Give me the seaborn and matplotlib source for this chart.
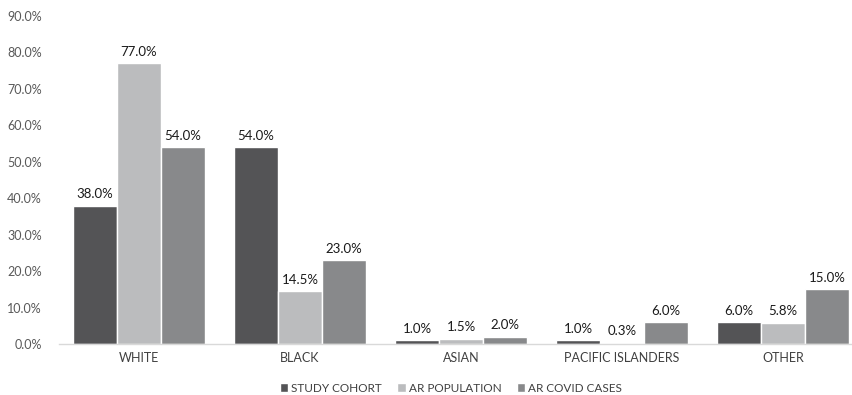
import matplotlib
matplotlib.use("Agg")
import matplotlib.pyplot as plt
import seaborn as sns
import pandas as pd
from matplotlib.ticker import FuncFormatter

categories = ["WHITE", "BLACK", "ASIAN", "PACIFIC ISLANDERS", "OTHER"]
series = ["STUDY COHORT", "AR POPULATION", "AR COVID CASES"]
study_cohort = [38.0, 54.0, 1.0, 1.0, 6.0]
ar_population = [77.0, 14.5, 1.5, 0.3, 5.8]
ar_covid_cases = [54.0, 23.0, 2.0, 6.0, 15.0]
yticks = [0, 10, 20, 30, 40, 50, 60, 70, 80, 90]

rows = []
for name, vals in zip(series, [study_cohort, ar_population, ar_covid_cases]):
    for c, v in zip(categories, vals):
        rows.append({"cat": c, "series": name, "val": v})
df = pd.DataFrame(rows)

sns.set_theme(style="white")
plt.rcParams["font.family"] = ["Lato", "DejaVu Sans"]

fig = plt.figure(figsize=(8.52, 3.95), dpi=100)
ax = fig.add_axes([58.5 / 852, 51 / 395, 805 / 852, 328 / 395])

palette = {"STUDY COHORT": "#545456", "AR POPULATION": "#bbbcbe", "AR COVID CASES": "#88898b"}
sns.barplot(data=df, x="cat", y="val", hue="series", order=categories, hue_order=series,
            palette=palette, width=0.82, saturation=1, ax=ax, legend=True)

for cont in ax.containers:
    ax.bar_label(cont, labels=[f"{b.get_height():.1f}%" for b in cont], padding=4,
                 fontsize=9.5, color="#1a1a1a")

ax.set_ylim(0, 90)
ax.set_xlim(-0.5, 4.5)
ax.set_yticks(yticks)
ax.yaxis.set_major_formatter(FuncFormatter(lambda v, p: f"{v:.1f}%"))
ax.tick_params(axis="y", length=0, pad=12, labelsize=9, labelcolor="#595959")
ax.tick_params(axis="x", length=0, pad=6, labelsize=9, labelcolor="#404040")
ax.set_xlabel("")
ax.set_ylabel("")
for s in ["top", "right", "left"]:
    ax.spines[s].set_visible(False)
ax.spines["bottom"].set_color("#d9d9d9")
ax.spines["bottom"].set_linewidth(1)
ax.grid(False)

handles, labels = ax.get_legend_handles_labels()
ax.legend_.remove()
fig.legend(handles, labels, loc="center", bbox_to_anchor=(451 / 852, 1 - 388 / 395), ncol=3,
           frameon=False, fontsize=8.5, handlelength=0.7, handleheight=0.7, handletextpad=0.25,
           columnspacing=1.3, labelcolor="#404040")

fig.savefig("out.png", dpi=100)
